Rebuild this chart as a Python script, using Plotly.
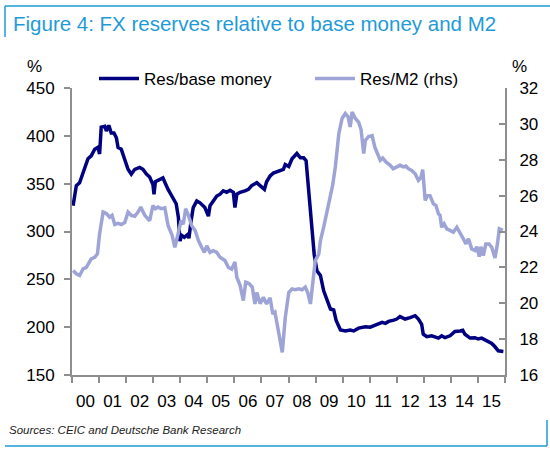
import plotly.graph_objects as go

# ---------------- data ----------------
years_base = [2000.04, 2000.16, 2000.28, 2000.41, 2000.59, 2000.71, 2000.84, 2000.96, 2001.02, 2001.08,
              2001.21, 2001.27, 2001.36, 2001.45, 2001.55, 2001.64, 2001.70, 2001.82, 2001.95, 2002.07,
              2002.19, 2002.32, 2002.50, 2002.62, 2002.75, 2002.87, 2002.99, 2003.03, 2003.08, 2003.36,
              2003.55, 2003.73, 2003.85, 2003.93, 2003.99, 2004.05, 2004.15, 2004.28, 2004.32, 2004.40,
              2004.48, 2004.61, 2004.73, 2004.91, 2005.04, 2005.10, 2005.22, 2005.35, 2005.47, 2005.59,
              2005.72, 2005.84, 2005.96, 2006.02, 2006.09, 2006.21, 2006.39, 2006.52, 2006.64, 2006.83,
              2006.95, 2007.11, 2007.19, 2007.32, 2007.44, 2007.62, 2007.81, 2007.88, 2008.01, 2008.13,
              2008.31, 2008.44, 2008.56, 2008.65, 2008.75, 2008.87, 2008.95, 2009.05, 2009.18, 2009.30,
              2009.42, 2009.55, 2009.67, 2009.76, 2009.92, 2010.10, 2010.28, 2010.41, 2010.59, 2010.84,
              2011.02, 2011.21, 2011.46, 2011.58, 2011.70, 2011.89, 2012.00, 2012.12, 2012.31, 2012.49,
              2012.68, 2012.80, 2012.92, 2012.98, 2013.11, 2013.29, 2013.41, 2013.54, 2013.66, 2013.78,
              2013.97, 2014.15, 2014.34, 2014.44, 2014.52, 2014.71, 2014.89, 2015.01, 2015.14, 2015.33,
              2015.51, 2015.63, 2015.75, 2015.94]
res_base = [327, 348, 351, 362, 376, 379, 386, 388, 381, 409,
            410, 405, 411, 403, 403, 398, 388, 386, 374, 365,
            360, 365, 367, 365, 360, 357, 349, 339, 352, 356,
            344, 335, 329, 315, 290, 296, 294, 297, 293, 311,
            325, 332, 330, 325, 316, 327, 332, 337, 339, 342.5,
            341, 343, 341, 325, 339, 341, 342.5, 344, 348, 351,
            348, 344, 352, 358, 361, 363, 365, 370, 368, 376,
            381.5, 377, 377, 374, 339, 304, 276, 259, 254, 238,
            228, 219, 218, 207, 197, 196, 197, 196, 199, 200.5,
            200, 202.5, 205, 204, 206, 207.4, 208.5, 211, 208.5, 210,
            212, 208.5, 203, 192.6, 190, 191, 190, 188.6, 191, 189,
            191, 195.5, 196, 196.7, 192.6, 188.6, 189, 187.6, 188.5, 185.8,
            183, 179.5, 175.3, 174.6]

years_m2 = [2000.04, 2000.16, 2000.28, 2000.41, 2000.53, 2000.62, 2000.71, 2000.84, 2000.94, 2001.02,
            2001.15, 2001.27, 2001.39, 2001.48, 2001.58, 2001.70, 2001.82, 2001.95, 2002.07, 2002.19,
            2002.32, 2002.44, 2002.54, 2002.69, 2002.87, 2002.99, 2003.08, 2003.18, 2003.30, 2003.43,
            2003.55, 2003.70, 2003.80, 2003.92, 2004.03, 2004.11, 2004.20, 2004.30, 2004.42, 2004.55,
            2004.67, 2004.79, 2004.89, 2004.98, 2005.10, 2005.22, 2005.35, 2005.47, 2005.65, 2005.78,
            2005.90, 2006.02, 2006.09, 2006.21, 2006.33, 2006.42, 2006.54, 2006.66, 2006.76, 2006.83,
            2006.95, 2007.07, 2007.19, 2007.32, 2007.42, 2007.50, 2007.62, 2007.77, 2007.88, 2008.01,
            2008.13, 2008.25, 2008.38, 2008.50, 2008.62, 2008.71, 2008.81, 2008.93, 2008.99, 2009.12,
            2009.18, 2009.30, 2009.39, 2009.49, 2009.57, 2009.63, 2009.73, 2009.86, 2009.98, 2010.10,
            2010.20, 2010.28, 2010.35, 2010.47, 2010.59, 2010.68, 2010.78, 2010.84, 2010.96, 2011.09,
            2011.19, 2011.31, 2011.39, 2011.48, 2011.60, 2011.76, 2011.87, 2012.00, 2012.12, 2012.24,
            2012.34, 2012.43, 2012.55, 2012.68, 2012.80, 2012.89, 2012.96, 2013.05, 2013.13, 2013.23,
            2013.35, 2013.45, 2013.54, 2013.60, 2013.66, 2013.75, 2013.85, 2013.97, 2014.09, 2014.22,
            2014.34, 2014.46, 2014.56, 2014.65, 2014.77, 2014.89, 2014.96, 2015.05, 2015.11, 2015.20,
            2015.29, 2015.41, 2015.51, 2015.63, 2015.72, 2015.79, 2015.92]
res_m2 = [21.82, 21.64, 21.55, 21.92, 22.0, 22.2, 22.47, 22.56, 22.75, 23.87,
          25.08, 25.0, 24.8, 24.9, 24.39, 24.45, 24.39, 24.5, 25.08, 24.9,
          24.85, 25.08, 25.36, 24.9, 24.6, 25.45, 25.27, 25.36, 25.27, 25.32,
          24.34, 23.78, 23.12, 23.87, 24.6, 24.4, 25.27, 24.9, 24.34, 24.06,
          23.5, 23.12, 22.84, 23.2, 22.84, 22.93, 22.84, 22.56, 22.38, 22.0,
          21.9, 22.3, 21.45, 21.0, 20.15, 21.17, 21.1, 20.9, 19.96, 20.6,
          19.98, 20.33, 19.96, 20.3, 19.4, 19.5, 18.47, 17.26, 19.2, 20.6,
          20.8, 20.75, 20.8, 20.75, 20.9, 20.6, 19.96, 21.64, 22.38, 22.75,
          23.5, 24.24, 24.9, 25.73, 26.29, 26.57, 27.6, 29.46, 30.3, 30.58,
          30.4, 29.83, 30.66, 30.3, 30.1, 29.7, 28.34, 29.08, 29.3, 29.35,
          28.7, 28.25, 27.97, 28.1, 27.88, 27.69, 27.5, 27.6, 27.69, 27.6,
          27.65, 27.5, 27.4, 27.22, 26.85, 27.0, 27.45, 25.73, 26.0, 26.0,
          25.55, 25.45, 24.99, 24.9, 24.24, 24.43, 24.15, 24.06, 23.96, 24.24,
          23.87, 23.59, 23.31, 23.6, 23.03, 22.94, 23.15, 22.6, 23.15, 22.66,
          23.31, 23.31, 23.12, 22.53, 23.31, 24.15, 24.06]

year_ticks = list(range(2000, 2017))
year_labels = ["00", "01", "02", "03", "04", "05", "06", "07", "08", "09",
               "10", "11", "12", "13", "14", "15"]

# ---------------- styling ----------------
NAVY = "#000080"
LILAC = "#9EA5D6"
BLUE = "#1E9BD7"
GRAY = "#8E8E8E"
FONT = "Liberation Sans, Arial, sans-serif"

W, H = 550, 450
L, R, T, B = 72, 45, 88, 75
PW, PH = W - L - R, H - T - B


def px(x):
    return (x - L) / PW


def py(y):
    return (H - B - y) / PH


fig = go.Figure()
fig.add_trace(go.Scatter(x=years_base, y=res_base, mode="lines", name="Res/base money",
                         line=dict(color=NAVY, width=3.5), yaxis="y", legend="legend"))
fig.add_trace(go.Scatter(x=years_m2, y=res_m2, mode="lines", name="Res/M2 (rhs)",
                         line=dict(color=LILAC, width=3.5), yaxis="y2", legend="legend2"))

leg_common = dict(orientation="h", xanchor="left", yanchor="middle", y=py(79),
                  font=dict(size=17, color="black"), bgcolor="rgba(0,0,0,0)",
                  itemwidth=40)

fig.update_layout(
    width=W, height=H, autosize=False,
    margin=dict(l=L, r=R, t=T, b=B, pad=0, autoexpand=False),
    paper_bgcolor="white", plot_bgcolor="white",
    font=dict(family=FONT, size=17, color="black"),
    showlegend=True,
    legend=dict(x=px(94), **leg_common),
    legend2=dict(x=px(310), **leg_common),
    xaxis=dict(range=[2000, 2016], tickmode="array", automargin=False,
               tickvals=[y + 0.5 for y in year_ticks[:-1]], ticktext=year_labels,
               ticks="", showline=True, linecolor=GRAY, linewidth=2,
               showgrid=False, zeroline=False, ticklabelstandoff=10,
               minor=dict(tickmode="array", tickvals=year_ticks, ticks="outside",
                          ticklen=6, tickwidth=2, tickcolor=GRAY, showgrid=False),
               tickfont=dict(size=17)),
    yaxis=dict(range=[150, 450], dtick=50, tick0=150, ticks="outside", ticklen=6,
               tickwidth=2, tickcolor=GRAY, showline=True, linecolor=GRAY, linewidth=2,
               showgrid=False, zeroline=False, tickfont=dict(size=17), ticklabelstandoff=6,
               automargin=False),
    yaxis2=dict(range=[16, 32], dtick=2, tick0=16, overlaying="y", side="right",
                ticks="inside", ticklen=6, tickwidth=2, tickcolor=GRAY, showline=True,
                linecolor=GRAY, linewidth=2, showgrid=False, zeroline=False,
                tickfont=dict(size=17), ticklabelstandoff=9, automargin=False),
)

ann = [
    dict(text="Figure 4: FX reserves relative to base money and M2", x=px(11), y=py(23),
         xanchor="left", yanchor="middle", font=dict(size=20.5, color=BLUE)),
    dict(text="%", x=px(34), y=py(67), xanchor="center", yanchor="middle", font=dict(size=17)),
    dict(text="%", x=px(519), y=py(67), xanchor="center", yanchor="middle", font=dict(size=17)),
    dict(text="<i>Sources: CEIC and Deutsche Bank Research</i>", x=px(7), y=py(430),
         xanchor="left", yanchor="middle", font=dict(size=11.5, color="#222222")),
]
for a in ann:
    fig.add_annotation(xref="paper", yref="paper", showarrow=False, **a)

frame = [
    (5, 6, 550, 6), (5, 6, 5, 37),
    (5, 446, 547, 446), (547, 420, 547, 446),
]
for x0, y0, x1, y1 in frame:
    fig.add_shape(type="line", xref="paper", yref="paper", x0=px(x0), y0=py(y0),
                  x1=px(x1), y1=py(y1), line=dict(color=BLUE, width=1.5))

fig.write_html("out.html")
